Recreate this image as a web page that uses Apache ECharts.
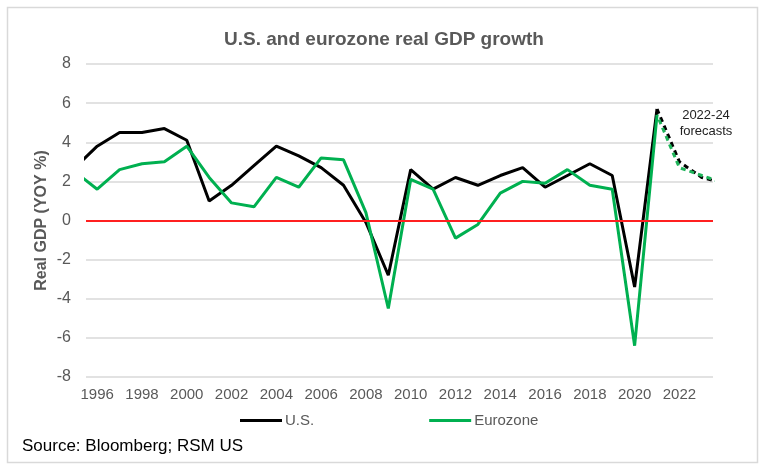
<!DOCTYPE html>
<html>
<head>
<meta charset="utf-8">
<script src="https://cdn.jsdelivr.net/npm/echarts@6/dist/echarts.min.js"></script>
<style>html,body{margin:0;padding:0;background:#fff}#c{width:768px;height:469px}</style>
</head>
<body>
<div id="c"></div>
<script>
const years = [1995,1996,1997,1998,1999,2000,2001,2002,2003,2004,2005,2006,2007,2008,2009,2010,2011,2012,2013,2014,2015,2016,2017,2018,2019,2020,2021,2022,2023,2024];
const usGDP = [2.7,3.8,4.5,4.5,4.7,4.1,1.0,1.8,2.8,3.8,3.3,2.7,1.8,-0.1,-2.8,2.6,1.6,2.2,1.8,2.3,2.7,1.7,2.3,2.9,2.3,-3.4,5.7,3.0,2.2,1.9];
const euroGDP = [2.5,1.6,2.6,2.9,3.0,3.8,2.2,0.9,0.7,2.2,1.7,3.2,3.1,0.4,-4.5,2.1,1.6,-0.9,-0.2,1.4,2.0,1.9,2.6,1.8,1.6,-6.4,5.4,2.7,2.3,1.9];
const forecastStart = 2021;
const xTickLabels = [1996,1998,2000,2002,2004,2006,2008,2010,2012,2014,2016,2018,2020,2022];
const yTicks = [-8,-6,-4,-2,0,2,4,6,8];

const actual = (vals) => years.map((y,i)=>[y,vals[i]]).filter(p=>p[0]<=forecastStart);
const forecast = (vals) => years.map((y,i)=>[y,vals[i]]).filter(p=>p[0]>=forecastStart);

const gray = '#595959';
const chart = echarts.init(document.getElementById('c'), null, {renderer:'canvas'});
chart.setOption({
  animation:false,
  backgroundColor:'#fff',
  title:{text:'U.S. and eurozone real GDP growth', left:'center', top:25,
    textStyle:{fontFamily:'Liberation Sans, Arial', fontSize:19, fontWeight:'bold', color:gray}},
  grid:{left:86, right:55, top:64, bottom:92},
  legend:{data:['U.S.','Eurozone'], left:235, top:408, icon:'rect', itemWidth:42, itemHeight:3, itemGap:115,
    textStyle:{fontFamily:'Liberation Sans, Arial', fontSize:15, color:gray, padding:[0,0,0,-2]}},
  xAxis:{type:'value', min:1995.5, max:2023.5,
    axisLine:{show:false}, axisTick:{show:false}, splitLine:{show:false},
    axisLabel:{customValues:xTickLabels, color:gray, fontSize:15, margin:10, fontFamily:'Liberation Sans, Arial', formatter:v=>String(v)}},
  yAxis:{type:'value', min:-8, max:8, interval:2,
    name:'Real GDP (YOY %)', nameLocation:'middle', nameGap:36, nameRotate:90, nameMoveOverlap:false,
    nameTextStyle:{fontFamily:'Liberation Sans, Arial', fontSize:16, fontWeight:'bold', color:gray},
    axisLine:{show:false}, axisTick:{show:false},
    splitLine:{lineStyle:{color:'#d9d9d9', width:1.5}},
    axisLabel:{color:gray, fontSize:16, margin:15, fontFamily:'Liberation Sans, Arial'}},
  series:[
    {name:'U.S.', type:'line', data:actual(usGDP), showSymbol:false, symbol:'none',
      lineStyle:{color:'#000', width:3}, itemStyle:{color:'#000'}, z:3,
      markLine:{silent:true, symbol:'none', label:{show:false}, lineStyle:{color:'#ff2020', width:2, type:'solid'}, data:[{yAxis:0}]}},
    {name:'Eurozone', type:'line', data:actual(euroGDP), showSymbol:false, symbol:'none',
      lineStyle:{color:'#00b050', width:3}, itemStyle:{color:'#00b050'}, z:4},
    {name:'U.S. forecast', type:'line', data:forecast(usGDP), showSymbol:false, symbol:'none',
      lineStyle:{color:'#000', width:3, type:[5,4]}, z:3},
    {name:'Eurozone forecast', type:'line', data:forecast(euroGDP), showSymbol:false, symbol:'none',
      lineStyle:{color:'#1fb45a', width:3, type:[5,4], dashOffset:4}, z:4}
  ],
  graphic:[
    {type:'rect', shape:{x:7.5, y:7.5, width:750, height:455}, style:{fill:null, stroke:'#d9d9d9', lineWidth:1.5}, silent:true, z:-1},
    {type:'text', left:22, top:438, style:{text:'Source: Bloomberg; RSM US', fontFamily:'Liberation Sans, Arial', fontSize:17, fill:'#000'}},
    {type:'text', x:706, y:107, style:{text:'2022-24\nforecasts', align:'center', fontFamily:'Liberation Sans, Arial', fontSize:13, lineHeight:16, fill:'#222'}}
  ]
});
</script>
</body>
</html>
